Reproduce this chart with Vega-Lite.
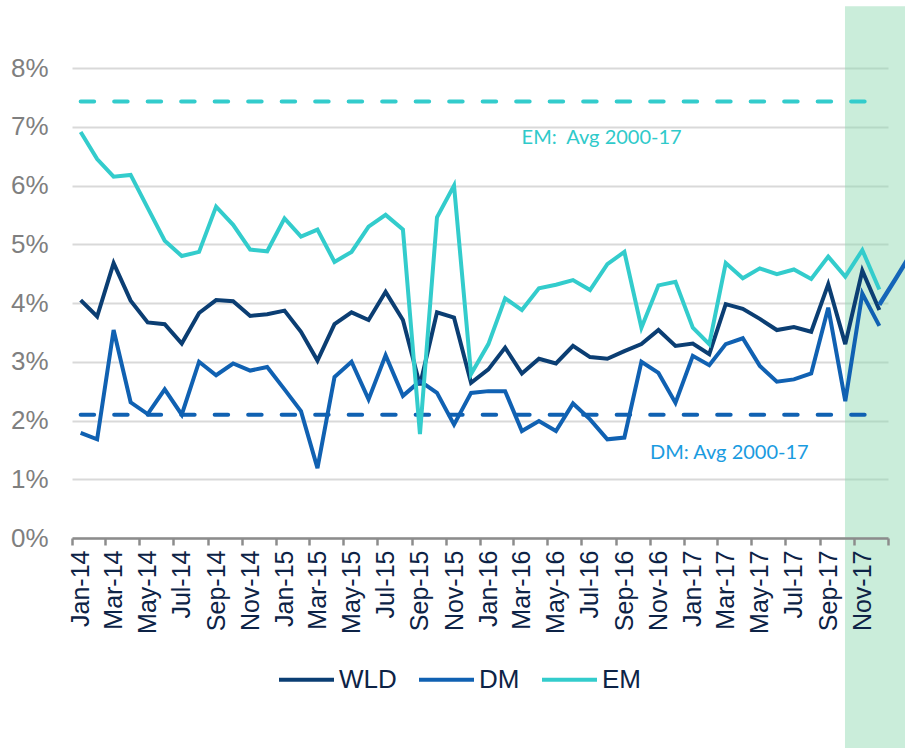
{
  "$schema": "https://vega.github.io/schema/vega-lite/v6.json",
  "width": 816,
  "height": 470,
  "autosize": {"type": "none"},
  "padding": {"left": 72, "top": 68, "right": 17, "bottom": 210},
  "background": "white",
  "title": {"text": "(%, saar)", "anchor": "start", "frame": "group", "orient": "top", "offset": 58, "dx": -43, "font": "Liberation Sans", "fontSize": 28, "fontWeight": "normal", "color": "#5aaae6"},
  "config": {
    "view": {"stroke": null},
    "axisY": {"labelFont": "Liberation Sans", "labelFontSize": 26, "labelColor": "#7f7f7f", "labelPadding": 24, "ticks": false, "tickSize": 0, "domain": false, "grid": true, "gridColor": "#d9d9d9", "gridWidth": 2}
  },
  "datasets": {
    "series": [
      {"date":"2014-01","series":"WLD","value":0.0405},{"date":"2014-02","series":"WLD","value":0.0377},{"date":"2014-03","series":"WLD","value":0.0468},{"date":"2014-04","series":"WLD","value":0.0404},{"date":"2014-05","series":"WLD","value":0.0367},{"date":"2014-06","series":"WLD","value":0.0364},{"date":"2014-07","series":"WLD","value":0.0331},{"date":"2014-08","series":"WLD","value":0.0383},{"date":"2014-09","series":"WLD","value":0.0405},{"date":"2014-10","series":"WLD","value":0.0403},{"date":"2014-11","series":"WLD","value":0.0378},{"date":"2014-12","series":"WLD","value":0.0381},
      {"date":"2015-01","series":"WLD","value":0.0387},{"date":"2015-02","series":"WLD","value":0.0351},{"date":"2015-03","series":"WLD","value":0.0302},{"date":"2015-04","series":"WLD","value":0.0364},{"date":"2015-05","series":"WLD","value":0.0384},{"date":"2015-06","series":"WLD","value":0.0371},{"date":"2015-07","series":"WLD","value":0.0419},{"date":"2015-08","series":"WLD","value":0.0371},{"date":"2015-09","series":"WLD","value":0.0260},{"date":"2015-10","series":"WLD","value":0.0384},{"date":"2015-11","series":"WLD","value":0.0375},{"date":"2015-12","series":"WLD","value":0.0264},
      {"date":"2016-01","series":"WLD","value":0.0287},{"date":"2016-02","series":"WLD","value":0.0324},{"date":"2016-03","series":"WLD","value":0.0280},{"date":"2016-04","series":"WLD","value":0.0305},{"date":"2016-05","series":"WLD","value":0.0297},{"date":"2016-06","series":"WLD","value":0.0327},{"date":"2016-07","series":"WLD","value":0.0308},{"date":"2016-08","series":"WLD","value":0.0305},{"date":"2016-09","series":"WLD","value":0.0318},{"date":"2016-10","series":"WLD","value":0.0330},{"date":"2016-11","series":"WLD","value":0.0354},{"date":"2016-12","series":"WLD","value":0.0327},
      {"date":"2017-01","series":"WLD","value":0.0331},{"date":"2017-02","series":"WLD","value":0.0313},{"date":"2017-03","series":"WLD","value":0.0398},{"date":"2017-04","series":"WLD","value":0.0390},{"date":"2017-05","series":"WLD","value":0.0373},{"date":"2017-06","series":"WLD","value":0.0354},{"date":"2017-07","series":"WLD","value":0.0359},{"date":"2017-08","series":"WLD","value":0.0351},{"date":"2017-09","series":"WLD","value":0.0432},{"date":"2017-10","series":"WLD","value":0.0330},{"date":"2017-11","series":"WLD","value":0.0455},{"date":"2017-12","series":"WLD","value":0.0388},
      {"date":"2014-01","series":"DM","value":0.0179},{"date":"2014-02","series":"DM","value":0.0168},{"date":"2014-03","series":"DM","value":0.0354},{"date":"2014-04","series":"DM","value":0.0231},{"date":"2014-05","series":"DM","value":0.0211},{"date":"2014-06","series":"DM","value":0.0253},{"date":"2014-07","series":"DM","value":0.0210},{"date":"2014-08","series":"DM","value":0.0300},{"date":"2014-09","series":"DM","value":0.0277},{"date":"2014-10","series":"DM","value":0.0297},{"date":"2014-11","series":"DM","value":0.0285},{"date":"2014-12","series":"DM","value":0.0291},
      {"date":"2015-01","series":"DM","value":0.0253},{"date":"2015-02","series":"DM","value":0.0216},{"date":"2015-03","series":"DM","value":0.0119},{"date":"2015-04","series":"DM","value":0.0274},{"date":"2015-05","series":"DM","value":0.0300},{"date":"2015-06","series":"DM","value":0.0236},{"date":"2015-07","series":"DM","value":0.0311},{"date":"2015-08","series":"DM","value":0.0242},{"date":"2015-09","series":"DM","value":0.0267},{"date":"2015-10","series":"DM","value":0.0247},{"date":"2015-11","series":"DM","value":0.0193},{"date":"2015-12","series":"DM","value":0.0247},
      {"date":"2016-01","series":"DM","value":0.0250},{"date":"2016-02","series":"DM","value":0.0250},{"date":"2016-03","series":"DM","value":0.0182},{"date":"2016-04","series":"DM","value":0.0199},{"date":"2016-05","series":"DM","value":0.0182},{"date":"2016-06","series":"DM","value":0.0229},{"date":"2016-07","series":"DM","value":0.0202},{"date":"2016-08","series":"DM","value":0.0168},{"date":"2016-09","series":"DM","value":0.0171},{"date":"2016-10","series":"DM","value":0.0300},{"date":"2016-11","series":"DM","value":0.0281},{"date":"2016-12","series":"DM","value":0.0230},
      {"date":"2017-01","series":"DM","value":0.0310},{"date":"2017-02","series":"DM","value":0.0294},{"date":"2017-03","series":"DM","value":0.0330},{"date":"2017-04","series":"DM","value":0.0340},{"date":"2017-05","series":"DM","value":0.0293},{"date":"2017-06","series":"DM","value":0.0266},{"date":"2017-07","series":"DM","value":0.0270},{"date":"2017-08","series":"DM","value":0.0280},{"date":"2017-09","series":"DM","value":0.0392},{"date":"2017-10","series":"DM","value":0.0233},{"date":"2017-11","series":"DM","value":0.0416},{"date":"2017-12","series":"DM","value":0.0361},
      {"date":"2014-01","series":"EM","value":0.0691},{"date":"2014-02","series":"EM","value":0.0645},{"date":"2014-03","series":"EM","value":0.0615},{"date":"2014-04","series":"EM","value":0.0618},{"date":"2014-05","series":"EM","value":0.0562},{"date":"2014-06","series":"EM","value":0.0506},{"date":"2014-07","series":"EM","value":0.0480},{"date":"2014-08","series":"EM","value":0.0487},{"date":"2014-09","series":"EM","value":0.0564},{"date":"2014-10","series":"EM","value":0.0533},{"date":"2014-11","series":"EM","value":0.0491},{"date":"2014-12","series":"EM","value":0.0488},
      {"date":"2015-01","series":"EM","value":0.0544},{"date":"2015-02","series":"EM","value":0.0513},{"date":"2015-03","series":"EM","value":0.0525},{"date":"2015-04","series":"EM","value":0.0470},{"date":"2015-05","series":"EM","value":0.0487},{"date":"2015-06","series":"EM","value":0.0530},{"date":"2015-07","series":"EM","value":0.0550},{"date":"2015-08","series":"EM","value":0.0525},{"date":"2015-09","series":"EM","value":0.0177},{"date":"2015-10","series":"EM","value":0.0546},{"date":"2015-11","series":"EM","value":0.0600},{"date":"2015-12","series":"EM","value":0.0279},
      {"date":"2016-01","series":"EM","value":0.0330},{"date":"2016-02","series":"EM","value":0.0408},{"date":"2016-03","series":"EM","value":0.0388},{"date":"2016-04","series":"EM","value":0.0425},{"date":"2016-05","series":"EM","value":0.0431},{"date":"2016-06","series":"EM","value":0.0439},{"date":"2016-07","series":"EM","value":0.0422},{"date":"2016-08","series":"EM","value":0.0466},{"date":"2016-09","series":"EM","value":0.0487},{"date":"2016-10","series":"EM","value":0.0358},{"date":"2016-11","series":"EM","value":0.0430},{"date":"2016-12","series":"EM","value":0.0436},
      {"date":"2017-01","series":"EM","value":0.0358},{"date":"2017-02","series":"EM","value":0.0330},{"date":"2017-03","series":"EM","value":0.0468},{"date":"2017-04","series":"EM","value":0.0442},{"date":"2017-05","series":"EM","value":0.0459},{"date":"2017-06","series":"EM","value":0.0449},{"date":"2017-07","series":"EM","value":0.0457},{"date":"2017-08","series":"EM","value":0.0441},{"date":"2017-09","series":"EM","value":0.0479},{"date":"2017-10","series":"EM","value":0.0445},{"date":"2017-11","series":"EM","value":0.0490},{"date":"2017-12","series":"EM","value":0.0423}
    ],
    "avg": [
      {"date":"2014-01","series":"EM","value":0.0743},{"date":"2017-12","series":"EM","value":0.0743},
      {"date":"2014-01","series":"DM","value":0.0210},{"date":"2017-12","series":"DM","value":0.0210}
    ],
    "ext": [
      {"date":"2017-12","value":0.0397},{"date":"2018-01","value":0.0444},{"date":"2018-02","value":0.0490}
    ],
    "band": [
      {"start":"2017-10-16","end":"2018-03-01","top":0.0905,"bottom":-0.04}
    ],
    "noteEM": [
      {"date":"2016-03-16","value":0.0671,"label":"EM:\u00a0 Avg 2000-17"}
    ],
    "noteDM": [
      {"date":"2016-11-01","value":0.01353,"label":"DM: Avg 2000-17"}
    ]
  },
  "resolve": {"axis": {"x": "independent"}, "legend": {"color": "independent"}},
  "layer": [
    {
      "data": {"name": "band", "format": {"parse": {"start": "date:'%Y-%m-%d'", "end": "date:'%Y-%m-%d'"}}},
      "mark": {"type": "rect", "fill": "#8fd9b0", "opacity": 0.47, "clip": false},
      "encoding": {
        "x": {"field": "start", "type": "temporal", "title": null, "axis": null, "scale": {"domain": [{"year": 2014, "month": 1, "date": 1}, {"year": 2018, "month": 1, "date": 1}]}},
        "x2": {"field": "end"},
        "y": {"field": "top", "type": "quantitative", "title": null, "scale": {"domain": [0, 0.08]}},
        "y2": {"field": "bottom"}
      }
    },
    {
      "data": {"name": "avg", "format": {"parse": {"date": "date:'%Y-%m'"}}},
      "mark": {"type": "line", "strokeWidth": 4, "strokeDash": [13.5, 20], "strokeCap": "round", "clip": false},
      "encoding": {
        "x": {"field": "date", "type": "temporal", "timeUnit": "yearmonth", "bandPosition": 0.5, "title": null,
          "scale": {"domain": [{"year": 2014, "month": 1, "date": 1}, {"year": 2018, "month": 1, "date": 1}]},
          "axis": {"orient": "bottom", "values": [
            {"year":2014,"month":1,"date":16},{"year":2014,"month":3,"date":16},{"year":2014,"month":5,"date":16},{"year":2014,"month":7,"date":16},{"year":2014,"month":9,"date":16},{"year":2014,"month":11,"date":16},
            {"year":2015,"month":1,"date":16},{"year":2015,"month":3,"date":16},{"year":2015,"month":5,"date":16},{"year":2015,"month":7,"date":16},{"year":2015,"month":9,"date":16},{"year":2015,"month":11,"date":16},
            {"year":2016,"month":1,"date":16},{"year":2016,"month":3,"date":16},{"year":2016,"month":5,"date":16},{"year":2016,"month":7,"date":16},{"year":2016,"month":9,"date":16},{"year":2016,"month":11,"date":16},
            {"year":2017,"month":1,"date":16},{"year":2017,"month":3,"date":16},{"year":2017,"month":5,"date":16},{"year":2017,"month":7,"date":16},{"year":2017,"month":9,"date":16},{"year":2017,"month":11,"date":16}],
            "format": "%b-%y", "formatType": "time", "labelAngle": 270, "labelFont": "Liberation Sans", "labelFontSize": 25, "labelColor": "#0d2346",
            "labelPadding": 12, "ticks": false, "tickSize": 0, "domain": false, "grid": false, "labelOverlap": false, "labelBound": false, "labelFlush": false, "zindex": 1}},
        "y": {"field": "value", "type": "quantitative", "title": null, "scale": {"domain": [0, 0.08]}},
        "color": {"field": "series", "type": "nominal", "legend": null, "scale": {"domain": ["WLD", "DM", "EM"], "range": ["#0b3e73", "#1061b2", "#33cccc"]}},
        "detail": {"field": "series"}
      }
    },
    {
      "data": {"name": "series", "format": {"parse": {"date": "date:'%Y-%m'"}}},
      "mark": {"type": "line", "strokeWidth": 4, "clip": false},
      "encoding": {
        "x": {"field": "date", "type": "temporal", "timeUnit": "yearmonth", "bandPosition": 0.5, "title": null,
          "scale": {"domain": [{"year": 2014, "month": 1, "date": 1}, {"year": 2018, "month": 1, "date": 1}]},
          "axis": {"orient": "bottom", "values": [
            {"year":2014,"month":1,"date":1},{"year":2014,"month":3,"date":1},{"year":2014,"month":5,"date":1},{"year":2014,"month":7,"date":1},{"year":2014,"month":9,"date":1},{"year":2014,"month":11,"date":1},
            {"year":2015,"month":1,"date":1},{"year":2015,"month":3,"date":1},{"year":2015,"month":5,"date":1},{"year":2015,"month":7,"date":1},{"year":2015,"month":9,"date":1},{"year":2015,"month":11,"date":1},
            {"year":2016,"month":1,"date":1},{"year":2016,"month":3,"date":1},{"year":2016,"month":5,"date":1},{"year":2016,"month":7,"date":1},{"year":2016,"month":9,"date":1},{"year":2016,"month":11,"date":1},
            {"year":2017,"month":1,"date":1},{"year":2017,"month":3,"date":1},{"year":2017,"month":5,"date":1},{"year":2017,"month":7,"date":1},{"year":2017,"month":9,"date":1},{"year":2017,"month":11,"date":1},
            {"year":2018,"month":1,"date":1}],
            "labels": false, "ticks": true, "tickSize": 7, "tickWidth": 2.5, "tickColor": "#8c8c8c", "domain": true, "domainColor": "#8c8c8c", "domainWidth": 2.5, "grid": false, "zindex": 1}},
        "y": {"field": "value", "type": "quantitative", "title": null, "scale": {"domain": [0, 0.08]},
          "axis": {"values": [0, 0.01, 0.02, 0.03, 0.04, 0.05, 0.06, 0.07, 0.08], "format": ".0%"}},
        "color": {"field": "series", "type": "nominal", "sort": ["WLD", "DM", "EM"],
          "scale": {"domain": ["WLD", "DM", "EM"], "range": ["#0b3e73", "#1061b2", "#33cccc"]},
          "legend": {"title": null, "orient": "none", "legendX": 205, "legendY": 582, "direction": "horizontal", "symbolType": "stroke", "symbolSize": 3025, "symbolStrokeWidth": 4, "labelFont": "Liberation Sans", "labelFontSize": 26, "labelColor": "#0d2346", "labelOffset": 3, "columnPadding": 14, "padding": 0, "labelLimit": 200}}
      }
    },
    {
      "data": {"name": "ext", "format": {"parse": {"date": "date:'%Y-%m'"}}},
      "mark": {"type": "line", "strokeWidth": 4.5, "color": "#1565b8", "clip": false},
      "encoding": {
        "x": {"field": "date", "type": "temporal", "timeUnit": "yearmonth", "bandPosition": 0.5, "title": null, "axis": null,
          "scale": {"domain": [{"year": 2014, "month": 1, "date": 1}, {"year": 2018, "month": 1, "date": 1}]}},
        "y": {"field": "value", "type": "quantitative", "title": null, "scale": {"domain": [0, 0.08]}}
      }
    },
    {
      "data": {"name": "noteEM"},
      "mark": {"type": "text", "align": "left", "baseline": "alphabetic", "font": "Lato", "fontSize": 20, "color": "#2fcaca", "clip": false},
      "encoding": {
        "x": {"field": "date", "type": "temporal", "timeUnit": "yearmonthdate", "title": null, "axis": null, "scale": {"domain": [{"year": 2014, "month": 1, "date": 1}, {"year": 2018, "month": 1, "date": 1}]}},
        "y": {"field": "value", "type": "quantitative", "title": null, "scale": {"domain": [0, 0.08]}},
        "text": {"field": "label", "type": "nominal"}
      }
    },
    {
      "data": {"name": "noteDM"},
      "mark": {"type": "text", "align": "left", "baseline": "alphabetic", "font": "Lato", "fontSize": 20, "color": "#1a9be0", "clip": false},
      "encoding": {
        "x": {"field": "date", "type": "temporal", "timeUnit": "yearmonthdate", "title": null, "axis": null, "scale": {"domain": [{"year": 2014, "month": 1, "date": 1}, {"year": 2018, "month": 1, "date": 1}]}},
        "y": {"field": "value", "type": "quantitative", "title": null, "scale": {"domain": [0, 0.08]}},
        "text": {"field": "label", "type": "nominal"}
      }
    }
  ]
}
